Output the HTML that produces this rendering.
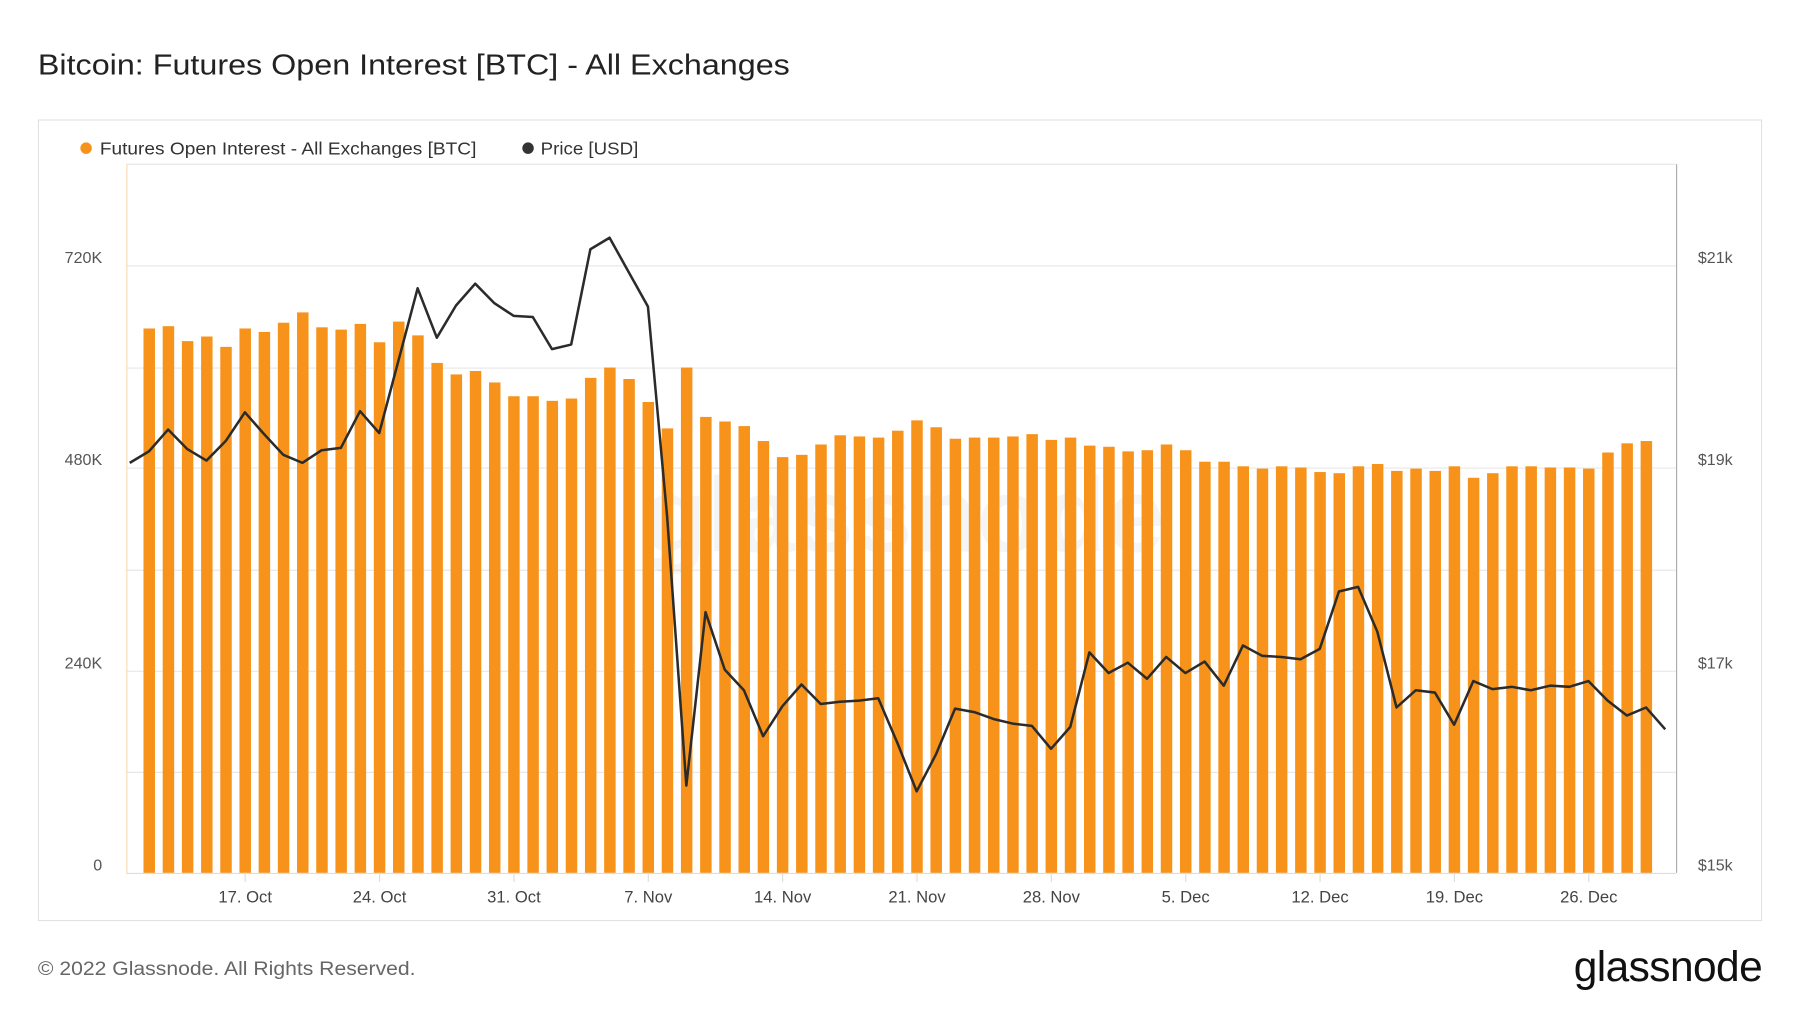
<!DOCTYPE html>
<html><head><meta charset="utf-8"><style>
html,body{margin:0;padding:0;background:#fff;}
svg{display:block;}
text{font-family:"Liberation Sans",sans-serif;}
</style></head><body>
<svg id="s" width="1800" height="1013" viewBox="0 0 1568 882" preserveAspectRatio="none" xmlns="http://www.w3.org/2000/svg">
<rect width="1568" height="882" fill="#fff"/>
<text x="33" y="65" font-size="25" fill="#222" textLength="655" lengthAdjust="spacingAndGlyphs">Bitcoin: Futures Open Interest [BTC] - All Exchanges</text>
<rect x="33.5" y="104.5" width="1501" height="697" fill="#fff" stroke="#e2e2e2"/>
<circle cx="75" cy="129" r="5" fill="#f7931a"/>
<text x="87" y="134.5" font-size="15" fill="#333" textLength="328" lengthAdjust="spacingAndGlyphs">Futures Open Interest - All Exchanges [BTC]</text>
<circle cx="460" cy="129" r="5" fill="#333"/>
<text x="471" y="134.5" font-size="15" fill="#333" textLength="85" lengthAdjust="spacingAndGlyphs">Price [USD]</text>
<g id="grid" stroke="#e8e8e8" stroke-width="1"></g>
<line x1="110" y1="143" x2="1460" y2="143" stroke="#e8e8e8"/>
<text x="787" y="480" font-size="92" fill="#000" fill-opacity="0.04" text-anchor="middle" font-weight="bold">glassnode</text>
<g id="bars" fill="#f7931a"></g>
<line x1="110.5" y1="143" x2="110.5" y2="760" stroke="#fbd9ae"/>
<line x1="1460.5" y1="143" x2="1460.5" y2="760" stroke="#aaa"/>
<line x1="110" y1="760.5" x2="1460" y2="760.5" stroke="#ddd"/>
<polyline id="line" fill="none" stroke="#2b2b2b" stroke-width="2.2" stroke-linejoin="round"/>
<g font-size="14" fill="#555" text-anchor="end">
<text x="89" y="229">720K</text><text x="89" y="405">480K</text><text x="89" y="582">240K</text><text x="89" y="758">0</text>
</g>
<g font-size="14" fill="#555">
<text x="1479" y="229">$21k</text><text x="1479" y="405">$19k</text><text x="1479" y="582">$17k</text><text x="1479" y="758">$15k</text>
</g>
<g id="xl" font-size="14.5" fill="#444" text-anchor="middle"></g>
<text x="33" y="849" font-size="17" fill="#666" textLength="329" lengthAdjust="spacingAndGlyphs">© 2022 Glassnode. All Rights Reserved.</text>
<text x="1535" y="854" font-size="37" fill="#111" text-anchor="end" letter-spacing="-0.5">glassnode</text>
</svg>
<script>
var NS="http://www.w3.org/2000/svg";
function el(t,a,p){var e=document.createElementNS(NS,t);for(var k in a)e.setAttribute(k,a[k]);p.appendChild(e);return e;}
var g=document.getElementById('grid');
[231,320,407,496,584,672].forEach(function(y){el('line',{x1:110,x2:1460,y1:y+0.5,y2:y+0.5},g);});
var tops=[286,284,297,293,302,286,289,281,272,285,287,282,298,280,292,316,326,323,333,345,345,349,347,329,320,330,350,373,320,363,367,371,384,398,396,387,379,380,381,375,366,372,382,381,381,380,378,383,381,388,389,393,392,387,392,402,402,406,408,406,407,411,412,406,404,410,408,410,406,416,412,406,406,407,407,408,394,386,384];
var b=document.getElementById('bars');
tops.forEach(function(t,i){var x=130+i*16.72;el('rect',{x:(x-5).toFixed(2),y:t,width:10,height:760-t},b);});
var ly=[403,393,374,391,401,384,359,378,396,403,392,390,358,377,314,251,294,266,247,264,275,276,304,300,217,207,237,267,450,684,533,583,601,641,615,596,613,611,610,608,647,689,657,617,620,626,630,632,652,633,568,586,577,591,572,586,576,597,562,571,572,574,565,515,511,550,616,601,603,631,593,600,598,601,597,598,593,610,623,616,635];
var pts=ly.map(function(y,j){return (113+j*16.72).toFixed(2)+','+y;}).join(' ');
document.getElementById('line').setAttribute('points',pts);
var xl=document.getElementById('xl');
var labs=['17. Oct','24. Oct','31. Oct','7. Nov','14. Nov','21. Nov','28. Nov','5. Dec','12. Dec','19. Dec','26. Dec'];
labs.forEach(function(l,i){var x=213.6+i*117.04;el('line',{x1:x,x2:x,y1:760,y2:768,stroke:'#ddd'},xl);var t=el('text',{x:x,y:786},xl);t.textContent=l;});
</script>
</body></html>
